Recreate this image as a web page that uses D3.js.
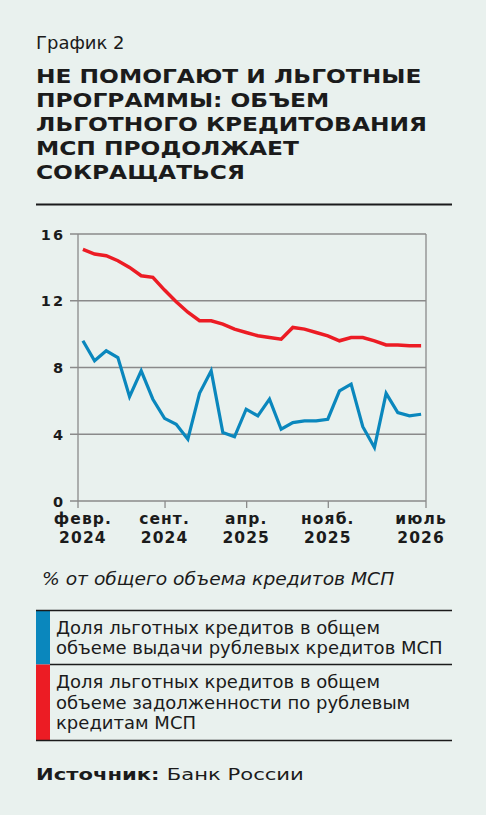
<!DOCTYPE html>
<html>
<head>
<meta charset="utf-8">
<script src="https://cdn.jsdelivr.net/npm/d3@7"></script>
<style>
  body { margin: 0; background: #e9f1ee; }
  text { font-family: "DejaVu Sans", sans-serif; fill: #1b1b1b; }
</style>
</head>
<body>
<script>
// monthly points, Feb 2024 .. Jul 2026
const months = d3.range(30).map(i => new Date(2024, 1 + i, 1));

// share of concessional loans in ruble SME issuance, %
const issuance = [9.6, 8.4, 9.0, 8.6, 6.25, 7.8, 6.1, 4.95, 4.6, 3.7,
                  6.45, 7.8, 4.1, 3.85, 5.5, 5.1, 6.1, 4.3, 4.7, 4.8,
                  4.8, 4.9, 6.6, 7.0, 4.45, 3.2, 6.45, 5.3, 5.1, 5.2];

// share of concessional loans in ruble SME debt, %
const debt = [15.08, 14.8, 14.7, 14.4, 14.0, 13.5, 13.4, 12.64, 11.94, 11.31,
              10.8, 10.8, 10.6, 10.3, 10.1, 9.9, 9.8, 9.7, 10.4, 10.3,
              10.1, 9.9, 9.6, 9.8, 9.8, 9.6, 9.35, 9.35, 9.3, 9.3];

const yTicks = [0, 4, 8, 12, 16];
const tickIdx = [0, 7, 14, 21, 29];
const tickMonth = ["февр.", "сент.", "апр.", "нояб.", "июль"];
const tickYear = ["2024", "2024", "2025", "2025", "2026"];

const titleLines = ["НЕ ПОМОГАЮТ И ЛЬГОТНЫЕ", "ПРОГРАММЫ: ОБЪЕМ", "ЛЬГОТНОГО КРЕДИТОВАНИЯ",
                    "МСП ПРОДОЛЖАЕТ", "СОКРАЩАТЬСЯ"];
const legendItems = [
  { color: "#0a87bd", lines: ["Доля льготных кредитов в общем", "объеме выдачи рублевых кредитов МСП"] },
  { color: "#ec1c24", lines: ["Доля льготных кредитов в общем", "объеме задолженности по рублевым", "кредитам МСП"] }
];

const W = 486, H = 815;
const plotL = 78, plotR = 426, plotT = 234, plotB = 501;

const svg = d3.select("body").append("svg").attr("width", W).attr("height", H);
svg.append("rect").attr("width", W).attr("height", H).attr("fill", "#e9f1ee");

// stretch a group horizontally so it spans a given width
function fit(g, x0, width) {
  const w = g.node().getBBox().width;
  g.attr("transform", `translate(${x0},0) scale(${width / w},1)`);
}

// header
svg.append("text").attr("x", 36).attr("y", 49).attr("font-size", 18).text("График 2");

const title = svg.append("g");
title.selectAll("text").data(titleLines).enter().append("text")
  .attr("x", 0).attr("y", (d, i) => 83 + i * 24)
  .attr("font-size", 19.5).attr("font-weight", "bold")
  .text(d => d);
fit(title, 36, 391);

svg.append("line").attr("x1", 36).attr("x2", 452).attr("y1", 204.5).attr("y2", 204.5)
  .attr("stroke", "#1b1b1b").attr("stroke-width", 2);

// scales
const x = d3.scalePoint().domain(months).range([plotL, plotR]).padding(0.42);
const y = d3.scaleLinear().domain([0, 16]).range([plotB, plotT]);

const grid = "#8a8a8a";
svg.append("g").selectAll("line").data(yTicks).enter().append("line")
  .attr("x1", plotL - 8).attr("x2", plotR)
  .attr("y1", d => y(d)).attr("y2", d => y(d))
  .attr("stroke", grid).attr("stroke-width", 1.3);

svg.append("g").selectAll("text").data(yTicks).enter().append("text")
  .attr("x", 65).attr("y", d => y(d) + 5.5)
  .attr("text-anchor", "end").attr("font-size", 14.5).attr("font-weight", "bold")
  .attr("letter-spacing", 2)
  .text(d => d);

// frame verticals reaching below the axis like ticks
svg.append("g").selectAll("line").data([plotL, plotR]).enter().append("line")
  .attr("x1", d => d).attr("x2", d => d).attr("y1", plotT).attr("y2", plotB + 7)
  .attr("stroke", grid).attr("stroke-width", 1.3);

const xAxis = d3.axisBottom(x)
  .tickValues(tickIdx.slice(1, -1).map(i => months[i]))
  .tickSize(7).tickFormat("");
svg.append("g").attr("transform", `translate(0,${plotB})`).call(xAxis)
  .call(g => g.select(".domain").remove())
  .call(g => g.selectAll(".tick line").attr("stroke", grid).attr("stroke-width", 1.3));

const xLabels = svg.append("g");
[[tickMonth, 523.5], [tickYear, 542.5]].forEach(([labels, by]) => {
  xLabels.append("g").selectAll("text").data(tickIdx).enter().append("text")
    .attr("text-anchor", "middle").attr("font-size", 15.5).attr("font-weight", "bold")
    .attr("letter-spacing", 1.1)
    .attr("x", d => x(months[d])).attr("y", by)
    .text((d, i) => labels[i]);
});

// lines
const line = d3.line().x((d, i) => x(months[i])).y(d => y(d));
svg.append("path").datum(debt).attr("d", line)
  .attr("fill", "none").attr("stroke", "#ec1c24").attr("stroke-width", 3.5);
svg.append("path").datum(issuance).attr("d", line)
  .attr("fill", "none").attr("stroke", "#0a87bd").attr("stroke-width", 3.2);

// unit note
const unit = svg.append("g");
unit.append("text").attr("x", 0).attr("y", 585).attr("font-size", 18).attr("font-style", "italic")
  .text("% от общего объема кредитов МСП");
fit(unit, 42, 353);

// legend
const rowTop = [611, 664.5];
const rowBottom = [664.5, 740];
legendItems.forEach((item, k) => {
  svg.append("rect").attr("x", 36).attr("y", rowTop[k]).attr("width", 14)
    .attr("height", rowBottom[k] - rowTop[k]).attr("fill", item.color);
});
svg.append("line").attr("x1", 36).attr("x2", 452).attr("y1", 610.5).attr("y2", 610.5)
  .attr("stroke", "#1b1b1b").attr("stroke-width", 1.3);
svg.append("line").attr("x1", 50).attr("x2", 452).attr("y1", 664.5).attr("y2", 664.5)
  .attr("stroke", "#1b1b1b").attr("stroke-width", 1.3);
svg.append("line").attr("x1", 36).attr("x2", 452).attr("y1", 740.5).attr("y2", 740.5)
  .attr("stroke", "#1b1b1b").attr("stroke-width", 1.3);

const legend = svg.append("g");
const baseY = [[634, 654.5], [688.5, 709, 729.5]];
legendItems.forEach((item, k) => {
  item.lines.forEach((t, j) => {
    legend.append("text").attr("x", 0).attr("y", baseY[k][j]).attr("font-size", 17).text(t);
  });
});
fit(legend, 56, 387);

// source
const src = svg.append("g");
const st = src.append("text").attr("x", 0).attr("y", 780).attr("font-size", 16);
st.append("tspan").attr("font-weight", "bold").text("Источник: ");
st.append("tspan").text("Банк России");
fit(src, 36, 268);
</script>
</body>
</html>
